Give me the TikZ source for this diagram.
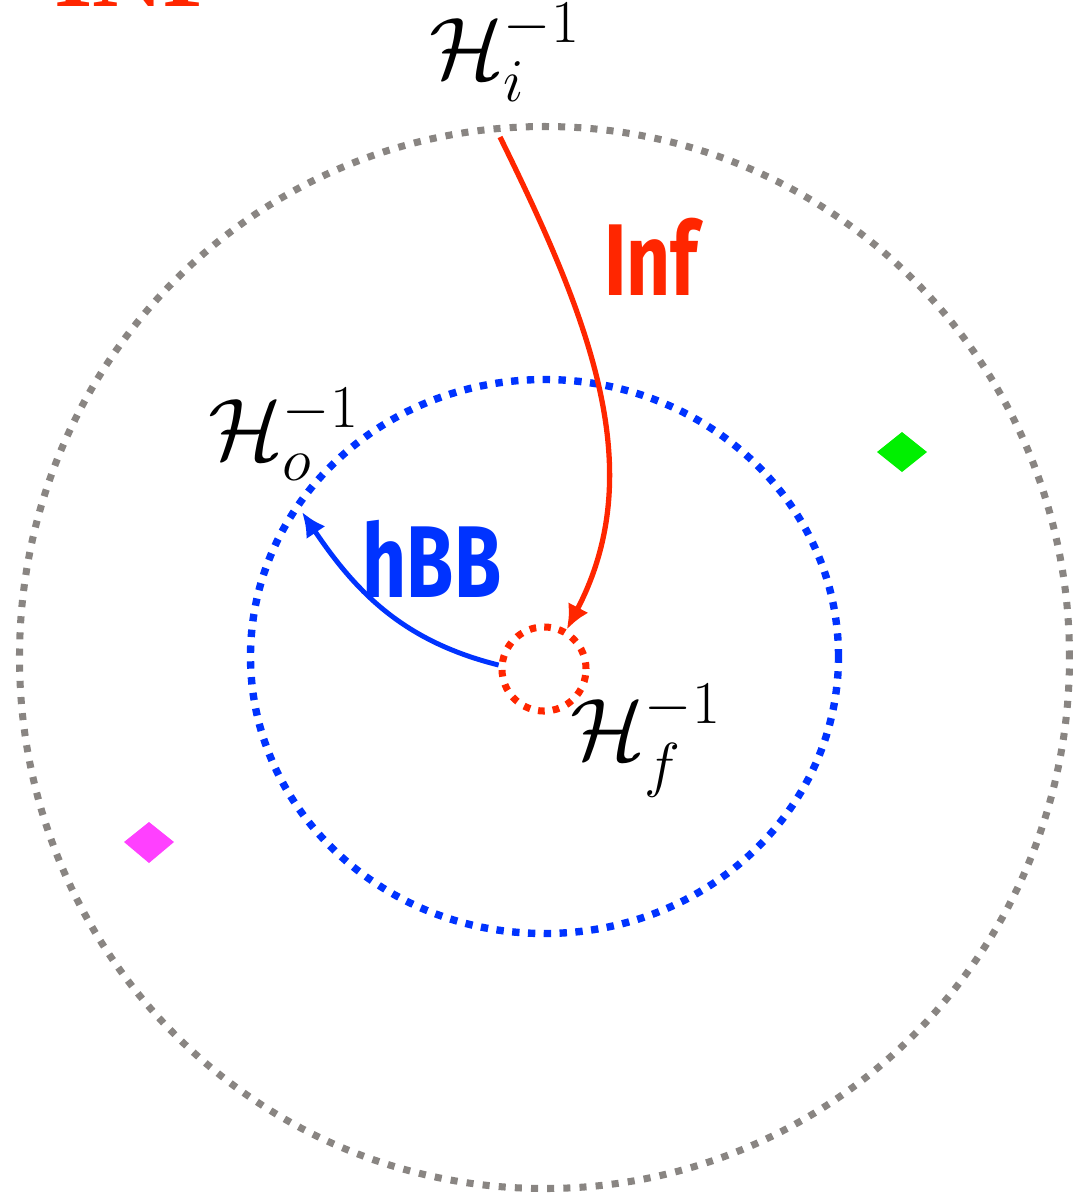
\documentclass[tikz,border=0pt]{standalone}
\usepackage{amsmath}
\usepackage{fontspec}
\newfontfamily\handfont{Fira Sans}
\newfontfamily\titlefont{Liberation Serif}
\usetikzlibrary{arrows.meta}
\definecolor{infred}{RGB}{255,38,0}
\definecolor{bbblue}{RGB}{0,51,255}
\definecolor{ringgray}{RGB}{137,133,130}
\definecolor{diagreen}{RGB}{0,240,0}
\definecolor{diamag}{RGB}{255,64,255}

\begin{document}
\begin{tikzpicture}[x=0.01cm, y=0.01cm,
  grayring/.style={draw=ringgray, line width=2pt, dash pattern=on 2pt off 2.6pt},
  bluering/.style={draw=bbblue, line width=2.1pt, dash pattern=on 2.1pt off 2.4pt},
  redring/.style={circle, draw=infred, line width=2pt, dash pattern=on 1.9pt off 2.3pt,
    minimum size=0.84cm, inner sep=0pt},
  lab/.style={font=\fontsize{24}{28}\selectfont, inner sep=0pt},
  handlab/.style={font=\handfont\bfseries\fontsize{29}{32}\selectfont, xscale=0.75, inner sep=0pt},
  infarrow/.style={draw=infred, line width=1.5pt, -{Latex[length=7pt, width=6.5pt]}},
  bbarrow/.style={draw=bbblue, line width=1.4pt, -{Latex[length=7pt, width=6.5pt]}}]
  \useasboundingbox (0,0) rectangle (1073,-1193);
  % rings: outer (grey), middle (blue), inner (red)
  \draw[grayring] (544.5,-657.5) ellipse [x radius=525, y radius=531];
  \draw[bluering] (544.5,-656.5) ellipse [x radius=294, y radius=277];
  \node[redring] (fin) at (544,-669) {};
  % ends of the arrows on the rings
  \coordinate (start) at (500,-137);
  \coordinate (back) at (302,-512);
  \draw[infarrow] (start) .. controls (590,-320) and (650,-470) .. (fin.60);
  \draw[bbarrow] (fin.175) to[out=166, in=-56] (back);
  % labels
  \node[anchor=base, text=infred, font=\titlefont\bfseries\fontsize{28}{30}\selectfont] (title) at (139,-6) {INF};
  \node[lab, anchor=base] (Hi) at (505,-78) {$\mathcal{H}_i^{-1}$};
  \node[lab, anchor=base] (Ho) at (284,-459) {$\mathcal{H}_o^{-1}$};
  \node[lab, anchor=base] (Hf) at (646,-759) {$\mathcal{H}_f^{-1}$};
  \node[handlab, text=infred, anchor=base] (inf) at (651,-295) {Inf};
  \node[handlab, text=bbblue, anchor=base] (hbb) at (432,-597) {hBB};
  % markers
  \fill[diagreen] (877,-452) -- (902,-432) -- (927,-452) -- (902,-472) -- cycle;
  \fill[diamag] (124,-842) -- (149,-822) -- (174,-842) -- (149,-863) -- cycle;
\end{tikzpicture}
\end{document}
